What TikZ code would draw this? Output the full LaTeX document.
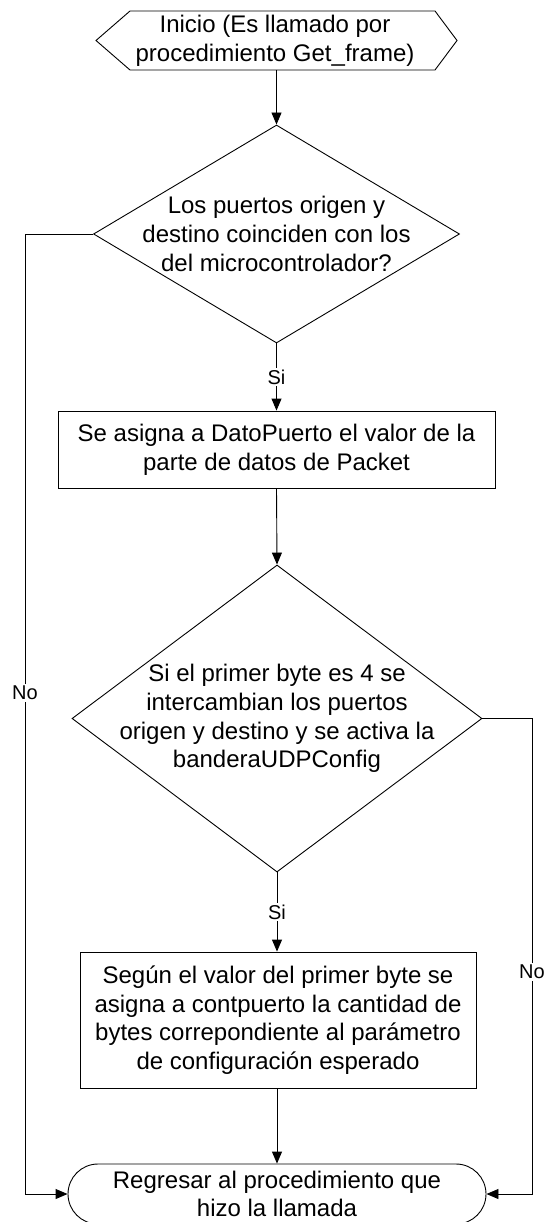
\documentclass[tikz,border=0pt]{standalone}
\usepackage{fontspec}
\setmainfont{Liberation Sans}
\usetikzlibrary{shapes.geometric,shapes.misc,arrows.meta,calc}
\tikzset{>={Triangle[length=12pt,width=10pt]}}
\tikzset{
  texto/.style={font=\fontsize{24pt}{28.7pt}\selectfont, align=center},
  decision/.style={texto, diamond, draw, inner sep=-60pt},
  proceso/.style={texto, rectangle, draw, inner sep=0pt},
  terminal/.style={texto, rounded rectangle, draw, inner xsep=-40pt, inner ysep=-10pt},
  etiqueta/.style={font=\fontsize{20pt}{23pt}\selectfont, fill=white, inner sep=2pt},
  flecha/.style={->},
}

\begin{document}
\begin{tikzpicture}[x=1pt,y=-1pt,line width=0.9pt]
  \useasboundingbox (0,0) rectangle (543,1222);

  % inicio (hexagono)
  \node[texto, minimum width=305pt, minimum height=59pt, inner sep=0pt] (inicio) at (275,40.5)
    {Inicio (Es llamado por\\procedimiento Get\_frame)};
  \draw ($(inicio)+(-179,0)$) -- ($(inicio)+(-145,-29.5)$) -- ($(inicio)+(160,-29.5)$)
    -- ($(inicio)+(182,0)$) -- ($(inicio)+(160,29.5)$) -- ($(inicio)+(-145,29.5)$) -- cycle;

  % bloques
  \node[decision, minimum width=366pt, minimum height=218pt] (cond1) at (276.5,234)
    {Los puertos origen y\\destino coinciden con los\\del microcontrolador?};
  \node[proceso, minimum width=437pt, minimum height=77pt] (asigna) at (276.5,449.5)
    {Se asigna a DatoPuerto el valor de la\\parte de datos de Packet};
  \node[decision, minimum width=410pt, minimum height=307pt] (cond2) at (277,718.5)
    {Si el primer byte es 4 se\\intercambian los puertos\\origen y destino y se activa la\\banderaUDPConfig};
  \node[proceso, minimum width=396pt, minimum height=136pt] (segun) at (278,1020)
    {Según el valor del primer byte se\\asigna a contpuerto la cantidad de\\bytes correpondiente al parámetro\\de configuración esperado};
  \node[terminal, minimum width=338pt, minimum height=60pt] (regresar) at (277,1194)
    {Regresar al procedimiento que\\hizo la llamada};

  \coordinate (izq) at (25,1194);
  \coordinate (der) at (532,1194);

  % conectores
  \draw[flecha] (inicio.south -| cond1.north) -- (cond1.north);
  \draw[flecha] (cond1.south) -- node[etiqueta] (si1) {Si} (asigna.north);
  \draw[flecha] (asigna.south) -- (cond2.north);
  \draw[flecha] (cond2.south) -- node[etiqueta] (si2) {Si} (segun.north -| cond2.south);
  \draw[flecha] (segun.south -| regresar.north) -- (regresar.north);
  \draw[flecha] (cond1.west) -| (izq) -- (regresar.west);
  \draw[flecha] (cond2.east) -| (der) -- (regresar.east);
  \node[etiqueta] (no1) at (25,693) {No};
  \node[etiqueta] (no2) at (532,972) {No};
\end{tikzpicture}
\end{document}
